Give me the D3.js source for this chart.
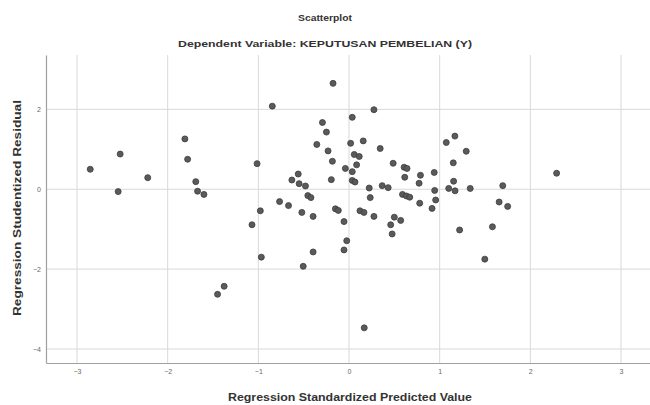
<!DOCTYPE html>
<html>
<head>
<meta charset="utf-8">
<script src="https://cdn.jsdelivr.net/npm/d3@7/dist/d3.min.js"></script>
<style>
  html, body { margin: 0; padding: 0; background: #fff; }
  svg { display: block; font-family: "Liberation Sans", Arial, sans-serif; }
</style>
</head>
<body>
<svg id="chart" width="650" height="405"></svg>
<script>
// ---- data ----
const title = "Scatterplot";
const subtitle = "Dependent Variable: KEPUTUSAN PEMBELIAN (Y)";
const xLabel = "Regression Standardized Predicted Value";
const yLabel = "Regression Studentized Residual";
const xTicks = [-3, -2, -1, 0, 1, 2, 3];
const yTicks = [2, 0, -2, -4];
const predicted = [
  -2.854, -2.524, -2.546, -2.22, -1.81, -1.78, -1.69, -1.67, -1.60, -1.377,
  -1.45, -0.176, -0.846, 0.275, 0.036, -0.293, -0.249, -0.355, 0.018, 0.157,
  -0.231, 0.344, 0.058, 0.113, -0.183, 0.084, -0.04, 0.036, -1.014, -0.56,
  -0.63, -0.55, -0.48, -0.195, 0.036, 0.066, 0.223, 0.366, 0.432, 0.487,
  0.608, 0.64, 0.615, 0.773, -0.454, -0.42, 0.234, 0.59, 0.634, 0.67,
  0.78, -0.766, -0.667, -0.978, -0.52, -0.396, -0.15, -0.118, -0.055, 0.121,
  0.165, 0.275, 0.50, 0.57, 0.46, 0.476, -1.07, -0.967, -0.396, -0.505,
  -0.055, -0.025, 0.168, 1.168, 1.073, 1.293, 1.15, 0.788, 0.94, 1.154,
  0.945, 1.10, 1.17, 1.337, 1.696, 0.956, 0.916, 1.656, 1.75, 1.22,
  1.582, 1.498, 2.29
];
const residual = [
  0.50, 0.88, -0.06, 0.29, 1.26, 0.75, 0.19, -0.05, -0.13, -2.43,
  -2.63, 2.65, 2.08, 1.99, 1.80, 1.67, 1.43, 1.12, 1.15, 1.21,
  0.96, 1.02, 0.87, 0.82, 0.70, 0.61, 0.52, 0.44, 0.64, 0.38,
  0.23, 0.14, 0.08, 0.24, 0.22, 0.18, 0.03, 0.09, 0.04, 0.65,
  0.55, 0.52, 0.30, 0.15, -0.16, -0.21, -0.21, -0.13, -0.17, -0.20,
  -0.35, -0.31, -0.41, -0.54, -0.58, -0.68, -0.49, -0.53, -0.81, -0.54,
  -0.58, -0.68, -0.70, -0.78, -0.89, -1.12, -0.89, -1.70, -1.57, -1.93,
  -1.52, -1.29, -3.47, 1.33, 1.17, 0.95, 0.66, 0.35, 0.42, 0.20,
  -0.03, 0.02, -0.04, 0.02, 0.09, -0.27, -0.48, -0.32, -0.43, -1.02,
  -0.94, -1.75, 0.40
];

(function () {
const points = predicted.map((v, i) => ({ x: v, y: residual[i] }));

// ---- layout ----
const svg = d3.select("#chart");
const mLeft = 46, mRight = 650, mTop = 55, mBottom = 363;

const x = d3.scaleLinear().domain([-3.342, 3.32]).range([mLeft, mRight]);
const y = d3.scaleLinear().domain([-4.35, 3.36]).range([mBottom, mTop]);

// gridlines
svg.append("g")
  .selectAll("line")
  .data(xTicks)
  .join("line")
  .attr("x1", d => x(d)).attr("x2", d => x(d))
  .attr("y1", mTop).attr("y2", mBottom)
  .attr("stroke", "#d9d9d9").attr("stroke-width", 1);

svg.append("g")
  .selectAll("line")
  .data(yTicks)
  .join("line")
  .attr("x1", mLeft).attr("x2", mRight)
  .attr("y1", d => y(d)).attr("y2", d => y(d))
  .attr("stroke", "#d9d9d9").attr("stroke-width", 1);

// axes
const xAxis = d3.axisBottom(x).tickValues(xTicks).tickSize(0).tickPadding(6)
  .tickFormat(d3.format("d"));
const yAxis = d3.axisLeft(y).tickValues(yTicks).tickSize(0).tickPadding(5)
  .tickFormat(d3.format("d"));

const gx = svg.append("g").attr("transform", `translate(0,${mBottom})`).call(xAxis);
const gy = svg.append("g").attr("transform", `translate(${mLeft},0)`).call(yAxis);
[gx, gy].forEach(g => {
  g.select(".domain").attr("stroke", "#a0a0a0").attr("stroke-width", 1.2);
  g.selectAll("text").attr("fill", "#666").attr("font-size", 7)
    .attr("font-family", "Liberation Sans, Arial, sans-serif");
});

// points
svg.append("g")
  .selectAll("circle")
  .data(points)
  .join("circle")
  .attr("cx", d => x(d.x))
  .attr("cy", d => y(d.y))
  .attr("r", 3.0)
  .attr("fill", "#5a5a5a")
  .attr("stroke", "#3c3c3c")
  .attr("stroke-width", 0.8);

// titles
svg.append("text")
  .attr("x", 325).attr("y", 21)
  .attr("text-anchor", "middle")
  .attr("font-size", 9.5).attr("font-weight", "bold").attr("fill", "#333")
  .attr("textLength", 54).attr("lengthAdjust", "spacingAndGlyphs")
  .text(title);

svg.append("text")
  .attr("x", 325).attr("y", 47)
  .attr("text-anchor", "middle")
  .attr("font-size", 9.5).attr("font-weight", "bold").attr("fill", "#333")
  .attr("textLength", 294).attr("lengthAdjust", "spacingAndGlyphs")
  .text(subtitle);

svg.append("text")
  .attr("x", 350).attr("y", 401)
  .attr("text-anchor", "middle")
  .attr("font-size", 10.5).attr("font-weight", "bold").attr("fill", "#333")
  .attr("textLength", 244).attr("lengthAdjust", "spacingAndGlyphs")
  .text(xLabel);

svg.append("text")
  .attr("transform", "translate(21,208) rotate(-90)")
  .attr("text-anchor", "middle")
  .attr("font-size", 10.5).attr("font-weight", "bold").attr("fill", "#333")
  .attr("textLength", 216).attr("lengthAdjust", "spacingAndGlyphs")
  .text(yLabel);
})();
</script>
</body>
</html>
